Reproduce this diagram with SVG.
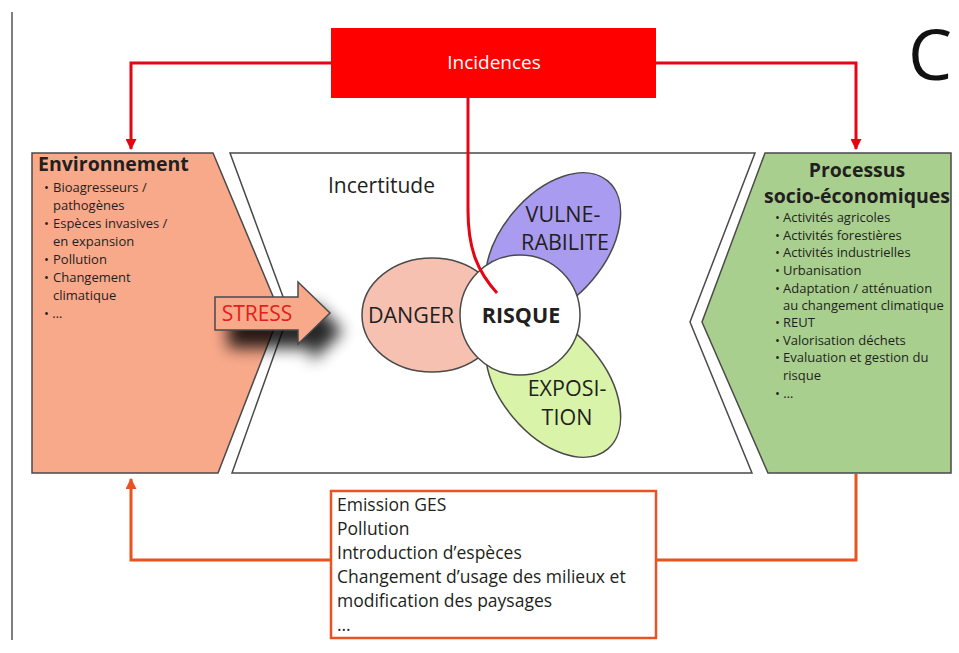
<svg xmlns="http://www.w3.org/2000/svg" width="959" height="653" viewBox="0 0 959 653">
<style>
text{font-family:"Open Sans","Liberation Sans",sans-serif;fill:#231f20}
.shape{stroke:#4a4a4a;stroke-width:1.5;stroke-linejoin:miter}
.ttl{font-size:19.5px;font-weight:bold}
.li{font-size:13px}
.bub{font-size:21.5px;text-anchor:middle}
.red{fill:none;stroke:#e30613;stroke-width:3}
.org{fill:none;stroke:#e8531f;stroke-width:3}
.bt{font-size:17.5px}
</style>
<defs>
<marker id="ar" markerWidth="11" markerHeight="11" refX="9" refY="5" orient="auto" markerUnits="userSpaceOnUse" viewBox="0 0 10 10">
<path d="M0,0 L10,5 L0,10 Z" fill="#e30613"/>
</marker>
<marker id="ao" markerWidth="11" markerHeight="11" refX="9" refY="5" orient="auto" markerUnits="userSpaceOnUse" viewBox="0 0 10 10">
<path d="M0,0 L10,5 L0,10 Z" fill="#e8531f"/>
</marker>
<filter id="sh" x="-50%" y="-50%" width="200%" height="200%">
<feGaussianBlur stdDeviation="8"/>
</filter>
</defs>

<line x1="12" y1="12" x2="12" y2="640" stroke="#555" stroke-width="1.5"/>

<g id="center">
<polygon class="shape" points="230,153 755,153 690,322 752,473 232,473 289,313" fill="#fff"/>
<text x="328" y="193" font-size="21">Incertitude</text>
</g>

<g id="environnement">
<polygon class="shape" points="32,153 213,153 280,313 218,473 32,473" fill="#f8a98a"/>
<text class="ttl" x="38" y="171">Environnement</text>
<text class="li" x="44" y="192">•</text><text class="li" x="53" y="192">Bioagresseurs /</text>
<text class="li" x="53" y="210">pathogènes</text>
<text class="li" x="44" y="228">•</text><text class="li" x="53" y="228">Espèces invasives /</text>
<text class="li" x="53" y="246">en expansion</text>
<text class="li" x="44" y="264">•</text><text class="li" x="53" y="264">Pollution</text>
<text class="li" x="44" y="282">•</text><text class="li" x="53" y="282">Changement</text>
<text class="li" x="53" y="300">climatique</text>
<text class="li" x="44" y="318">• …</text>
</g>

<g id="processus">
<polygon class="shape" points="765,153 951,153 951,473 768,473 702,322" fill="#a9cf8f"/>
<text class="ttl" x="857" y="177" text-anchor="middle">Processus</text>
<text class="ttl" x="857" y="203" text-anchor="middle">socio-économiques</text>
<text class="li" x="775" y="222">•</text><text class="li" x="783" y="222">Activités agricoles</text>
<text class="li" x="775" y="240">•</text><text class="li" x="783" y="240">Activités forestières</text>
<text class="li" x="775" y="257">•</text><text class="li" x="783" y="257">Activités industrielles</text>
<text class="li" x="775" y="275">•</text><text class="li" x="783" y="275">Urbanisation</text>
<text class="li" x="775" y="293">•</text><text class="li" x="783" y="293">Adaptation / atténuation</text>
<text class="li" x="783" y="310">au changement climatique</text>
<text class="li" x="775" y="327">•</text><text class="li" x="783" y="327">REUT</text>
<text class="li" x="775" y="345">•</text><text class="li" x="783" y="345">Valorisation déchets</text>
<text class="li" x="775" y="362">•</text><text class="li" x="783" y="362">Evaluation et gestion du</text>
<text class="li" x="783" y="380">risque</text>
<text class="li" x="775" y="398">• …</text>
</g>

<g id="stress">
<polygon points="215,297 298,297 298,282 330,313 298,344 298,330 215,330" fill="#000" opacity="0.85" transform="translate(13,18)" filter="url(#sh)"/>
<polygon class="shape" stroke-width="1" points="215,297 298,297 298,282 330,313 298,344 298,330 215,330" fill="#f8a98a"/>
<text x="257" y="321" font-size="21" text-anchor="middle" style="fill:#e3201b">STRESS</text>
</g>

<g id="vulnerabilite">
<ellipse cx="553" cy="246" rx="85" ry="52" transform="rotate(-50 553 246)" fill="#a99cf0" class="shape" stroke-width="1.2"/>
<text class="bub" x="563" y="222">VULNE-</text>
<text class="bub" x="565" y="250">RABILITE</text>
</g>
<g id="exposition">
<ellipse cx="553" cy="384" rx="85" ry="52" transform="rotate(50 553 384)" fill="#d9f4a9" class="shape" stroke-width="1.2"/>
<text class="bub" x="567" y="396">EXPOSI-</text>
<text class="bub" x="567" y="425">TION</text>
</g>
<g id="danger">
<ellipse cx="432" cy="315" rx="70" ry="57" fill="#f6c1b1" class="shape" stroke-width="1.2"/>
<text class="bub" x="411" y="323">DANGER</text>
</g>
<g id="risque">
<circle cx="520" cy="315" r="60" fill="#fff" class="shape" stroke-width="1.2"/>
<text class="bub" x="521" y="323" font-weight="bold" font-size="21">RISQUE</text>
</g>

<g id="incidences">
<rect x="331" y="28" width="325" height="70" fill="#ff0000"/>
<text x="494" y="69" font-size="19" text-anchor="middle" style="fill:#fff">Incidences</text>
</g>

<g id="pressions">
<rect x="331" y="491" width="325" height="147" fill="#fff" stroke="#e8531f" stroke-width="2.5"/>
<text class="bt" x="337" y="511">Emission GES</text>
<text class="bt" x="337" y="535">Pollution</text>
<text class="bt" x="337" y="559">Introduction d’espèces</text>
<text class="bt" x="337" y="583">Changement d’usage des milieux et</text>
<text class="bt" x="337" y="607">modification des paysages</text>
<text class="bt" x="337" y="631">…</text>
</g>

<g id="connectors">
<path class="red" d="M331,63 H131 V149" marker-end="url(#ar)"/>
<path class="red" d="M656,63 H856 V149" marker-end="url(#ar)"/>
<path class="red" stroke-width="2.5" d="M468,98 V210 C468,250 478,272 497,293"/>
<path class="org" d="M331,560 H131 V479" marker-end="url(#ao)"/>
<path class="org" d="M656,560 H856 V474"/>
</g>

<text x="908" y="80" font-size="70" style="fill:#111">C</text>
</svg>
